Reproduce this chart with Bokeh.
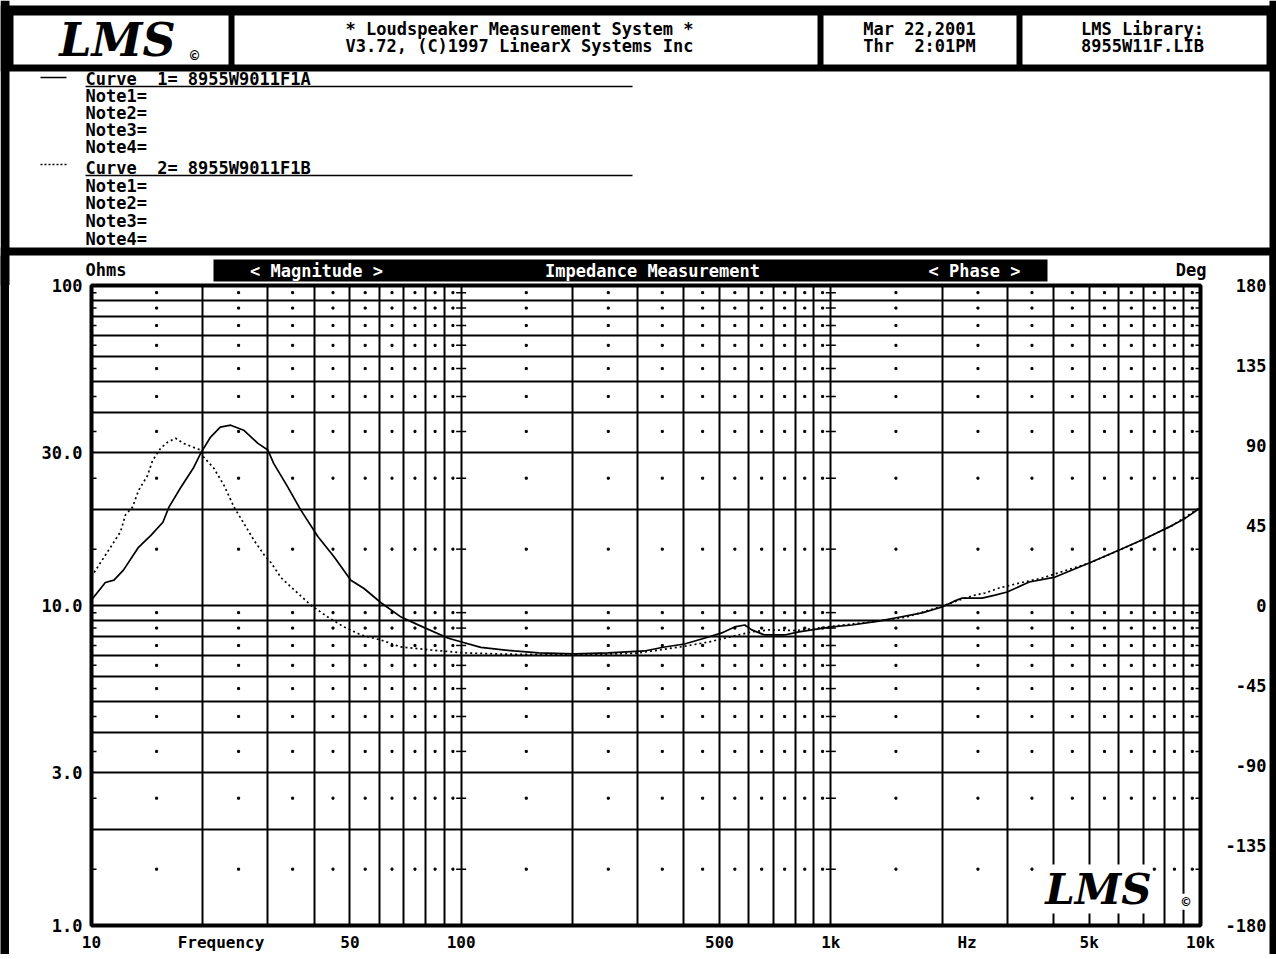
from bokeh.plotting import figure
from bokeh.models import Range1d, FixedTicker, LinearAxis, Label, LinearScale
from bokeh.layouts import column, row
from bokeh.embed import file_html
from bokeh.resources import INLINE
from bokeh.core.properties import value

MONO = "DejaVu Sans Mono"
LOGO_FONT = "DejaVu Serif"
NB = "\u00a0"

# ---------------- data ----------------
freq_curve1 = [10, 10.9, 11.5, 12.2, 13.4, 14.5, 15.6, 16.2, 17.4, 18.9, 19.8, 21.0, 22.3, 23.8,
               25.8, 28.2, 30.0, 31.1, 34.0, 36.8, 41.0, 45.3, 50.3, 54.6, 60.7, 68.8, 76.5,
               92.3, 113, 139, 162, 202, 250, 313, 355, 402, 467, 507, 549, 585, 611, 662, 750,
               819, 1006, 1140, 1349, 1491, 1765, 2000, 2150, 2265, 2566, 2782, 2999, 3441, 4045,
               5000, 6029, 7093, 8396, 9105, 10000]
mag_curve1 = [10.4, 11.8, 12.0, 12.9, 15.2, 16.6, 18.2, 20.3, 23.3, 27.0, 30.1, 33.6, 36.1, 36.6,
              35.3, 32.1, 30.6, 27.8, 23.4, 19.9, 16.4, 14.2, 12.0, 11.3, 10.2, 9.2, 8.7,
              7.9, 7.4, 7.21, 7.11, 7.06, 7.11, 7.21, 7.42, 7.58, 7.97, 8.21, 8.57, 8.69, 8.39, 8.09, 8.09,
              8.27, 8.57, 8.69, 8.94, 9.14, 9.48, 9.89, 10.3, 10.55, 10.55, 10.78, 11.02, 11.84, 12.27,
              13.57, 14.9, 16.2, 17.8, 18.75, 20.2]

freq_curve2 = [10, 10.57, 11.26, 11.98, 12.36, 12.91, 13.41, 14.18, 14.63, 15.38, 16.07, 16.89,
               17.75, 18.89, 19.74, 20.1, 21.4, 22.8, 24.3, 25.8, 27.5, 29.3, 30.6, 32.6, 35.3,
               39.3, 43.6, 48.2, 53.6, 60.7, 68.7, 83.0, 101.9, 130, 170, 220, 300, 400, 470, 540,
               611, 680, 800, 1000, 1350, 1600, 2000, 2223, 2455, 2615, 2852, 3232, 3731, 5000,
               6029, 7093, 8396, 9105, 10000]
mag_curve2 = [12.3, 13.6, 15.2, 17.0, 19.2, 20.3, 22.9, 25.5, 28.4, 31.0, 32.4, 33.3,
              32.1, 31.2, 30.6, 29.1, 26.9, 23.8, 20.3, 18.1, 16.0, 14.4, 13.6, 12.2, 11.2,
              10.0, 9.2, 8.57, 8.09, 7.80, 7.42, 7.26, 7.11, 7.05, 7.02, 7.02, 7.1, 7.45, 7.7, 8.0,
              8.27, 8.39, 8.35, 8.6, 8.95, 9.2, 9.95, 10.4, 10.78, 10.94, 11.34, 11.75, 12.19, 13.57,
              14.9, 16.2, 17.8, 18.9, 20.3]

x_tick_values = [10, 22.4, 50, 100, 500, 1000, 2337, 5000, 10000]
x_tick_labels = ["10", "Frequency", "50", "100", "500", "1k", "Hz", "5k", "10k"]
y_tick_values = [1, 3, 10, 30, 100]
y_tick_labels = ["1.0", "3.0", "10.0", "30.0", "100"]
phase_tick_values = [-180, -135, -90, -45, 0, 45, 90, 135, 180]
phase_tick_labels = ["-180", "-135", "-90", "-45", "0", "45", "90", "135", "180"]

freq_decades = [10, 100, 1000]
ohm_decades = [1, 10]

title_lines = ["* Loudspeaker Measurement System *", "V3.72, (C)1997 LinearX Systems Inc"]
date_lines = ["Mar 22,2001", "Thr" + NB + NB + "2:01PM"]
library_lines = ["LMS Library:", "8955W11F.LIB"]
curve_labels = ["Curve" + NB + NB + "1= 8955W9011F1A", "Curve" + NB + NB + "2= 8955W9011F1B"]
note_labels = ["Note1=", "Note2=", "Note3=", "Note4="]
bar_labels = ["< Magnitude >", "Impedance Measurement", "< Phase >"]

# ---------------- layout constants (reference pixel coordinates) ----------------
W, H = 1276, 959
TOP_H = 285            # top panel: header, notes and the strip above the plot
MAIN_Y0 = 255          # main panel starts here (overlapping the top panel by 30 px)
LEFT_W, RIGHT_X = 9, 1269
BOTTOM_Y = 954
FL, FR, FT, FB = 91, 1200, 285, 926   # plot frame edges
FS = "17px"


def txt(p, x, y, s, size=FS, align="left", color="black", style="bold", font=MONO):
    p.text(x=[x], y=[y], text=[s], text_font=value(font), text_font_size=size,
           text_font_style=style, text_align=align, text_baseline="middle", text_color=color)


def strip(width, height):
    s = figure(width=width, height=height, toolbar_location=None, output_backend="svg", title=None,
               x_axis_location=None, y_axis_location=None, min_border=0, outline_line_color=None,
               background_fill_color="black", border_fill_color="black")
    s.frame_align = False
    s.grid.visible = False
    return s


# ================= top panel =================
top = figure(width=W, height=TOP_H, x_range=Range1d(0, W), y_range=Range1d(TOP_H, 0),
             toolbar_location=None, output_backend="svg", title=None,
             x_axis_location=None, y_axis_location=None, min_border=0,
             outline_line_color=None, background_fill_color="white", border_fill_color="white")
top.frame_align = False
top.grid.visible = False

# black frame pieces: header band, left band, right band, separator band
top.quad(left=[0, 0, RIGHT_X, 0], right=[W, LEFT_W, W, W], top=[5, 0, 0, 247],
         bottom=[71, TOP_H, TOP_H, 255], color="black", line_color=None)
# white header boxes
top.quad(left=[13, 234, 823, 1022], right=[228, 817, 1016, 1266], top=[15] * 4, bottom=[64] * 4,
         color="white", line_color=None)

# header logo
txt(top, 117, 39, "LMS", size="46px", align="center", style="bold italic", font=LOGO_FONT)
txt(top, 194, 55, "©", size="15px", align="center", style="bold")

# header texts
for i, yy in enumerate([28, 45]):
    txt(top, 519, yy, title_lines[i], align="center")
    txt(top, 919, yy, date_lines[i], align="center")
    txt(top, 1142, yy, library_lines[i], align="center")

# notes
rows = [[78, 95, 112, 129, 146], [167, 185, 202, 220, 238]]
for c in range(2):
    r = rows[c]
    txt(top, 85, r[0], curve_labels[c])
    top.line(x=[85, 632], y=[r[0] + 8, r[0] + 8], line_color="black", line_width=1.5)
    for k in range(4):
        txt(top, 85, r[k + 1], note_labels[k])
top.line(x=[40, 66], y=[rows[0][0] - 1, rows[0][0] - 1], line_color="black", line_width=1.5)
top.line(x=[40, 66], y=[rows[1][0] - 3, rows[1][0] - 3], line_color="black", line_width=1.5,
         line_dash="2 2")

# strip above the plot frame
top.quad(left=[213], right=[1047], top=[259], bottom=[281], color="black", line_color=None)
txt(top, 316, 270, bar_labels[0], align="center", color="white")
txt(top, 652, 270, bar_labels[1], align="center", color="white")
txt(top, 974, 270, bar_labels[2], align="center", color="white")
txt(top, 85, 269, "Ohms")
txt(top, 1206, 269, "Deg", align="right")

# ================= main panel: impedance plot =================
MAIN_W = RIGHT_X - LEFT_W
MAIN_H = BOTTOM_Y - MAIN_Y0
main = figure(width=MAIN_W, height=MAIN_H, x_axis_type="log", y_axis_type="log",
              x_range=Range1d(10, 10000), y_range=Range1d(1, 100),
              toolbar_location=None, output_backend="svg", title=None,
              min_border_left=FL - LEFT_W, min_border_right=RIGHT_X - FR,
              min_border_top=FT - MAIN_Y0, min_border_bottom=BOTTOM_Y - FB,
              background_fill_color="white", border_fill_color="white", border_fill_alpha=0,
              outline_line_color="black", outline_line_width=4)
main.frame_align = False

main.extra_y_ranges = {"phase": Range1d(-180, 180)}
main.extra_y_scales = {"phase": LinearScale()}
phase_axis = LinearAxis(y_range_name="phase")
main.add_layout(phase_axis, "right")

main.xaxis.ticker = FixedTicker(ticks=x_tick_values)
main.xaxis.major_label_overrides = dict(zip(x_tick_values, x_tick_labels))
main.yaxis[0].ticker = FixedTicker(ticks=y_tick_values)
main.yaxis[0].major_label_overrides = dict(zip(y_tick_values, y_tick_labels))
phase_axis.ticker = FixedTicker(ticks=phase_tick_values)
phase_axis.major_label_overrides = {v: s.rjust(4, NB) for v, s in zip(phase_tick_values, phase_tick_labels)}

for ax in main.axis:
    ax.axis_line_color = None
    ax.major_tick_line_color = None
    ax.minor_tick_line_color = None
    ax.major_tick_in = 0
    ax.major_tick_out = 0
    ax.major_label_text_font = MONO
    ax.major_label_text_font_style = "bold"
    ax.major_label_text_font_size = FS
    ax.major_label_text_color = "black"
main.xaxis.major_label_text_font_size = "16px"
main.xaxis.major_label_standoff = 7
main.yaxis[0].major_label_standoff = 9
phase_axis.major_label_standoff = 25

# grid: every 1..9 step of each decade
grid_freqs = [m * d for d in freq_decades for m in range(2, 11)]
grid_ohms = [m * d for d in ohm_decades for m in range(2, 11)]
main.xgrid.ticker = FixedTicker(ticks=grid_freqs)
main.ygrid.ticker = FixedTicker(ticks=grid_ohms)
main.grid.grid_line_color = "black"
main.grid.grid_line_width = 2
main.grid.grid_line_alpha = 1

# dots in the middle of each grid cell
freq_mids = [(m + 0.5) * d for d in freq_decades for m in range(1, 10)]
ohm_mids = [(m + 0.5) * d for d in ohm_decades for m in range(1, 10)]
main.scatter([fx for fx in freq_mids for _ in ohm_mids], [oy for _ in freq_mids for oy in ohm_mids],
             marker="square", size=2, color="black")

# short minor ticks on the edges and decade lines
h = 5.0 / 369.0
seg_x0, seg_x1, seg_y = [], [], []
for oy in ohm_mids:
    for a, b in [(10, 10 * 10 ** h), (100 * 10 ** -h, 100 * 10 ** h),
                 (1000 * 10 ** -h, 1000 * 10 ** h), (10000 * 10 ** -h, 10000)]:
        seg_x0.append(a); seg_x1.append(b); seg_y.append(oy)
main.segment(x0=seg_x0, y0=seg_y, x1=seg_x1, y1=seg_y, line_color="black", line_width=1.5)

# curves
main.line(freq_curve1, mag_curve1, line_color="black", line_width=1.7)
main.line(freq_curve2, mag_curve2, line_color="black", line_width=1.7, line_dash="2 3")

# LMS logo in the corner
main.add_layout(Label(x=3800, y=1.09, text="LMS", text_font=LOGO_FONT, text_font_style="bold italic",
                      text_font_size="42px", text_baseline="bottom", text_color="black",
                      background_fill_color="white"))
main.add_layout(Label(x=8900, y=1.12, text="©", text_font=MONO, text_font_style="bold",
                      text_font_size="14px", text_baseline="bottom", text_color="black",
                      background_fill_color="white"))

left_strip = strip(LEFT_W, MAIN_H)
right_strip = strip(W - RIGHT_X, MAIN_H)
bottom_strip = strip(W, H - BOTTOM_Y)

middle = row(left_strip, main, right_strip)
middle.margin = (MAIN_Y0 - TOP_H, 0, 0, 0)

layout = column(top, middle, bottom_strip)

with open("out.html", "w") as f:
    f.write(file_html(layout, INLINE, "LMS Impedance Measurement"))
